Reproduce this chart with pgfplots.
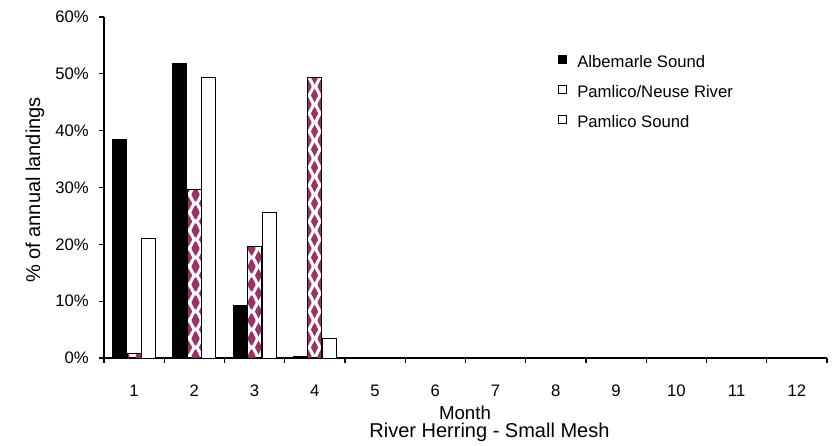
\documentclass[border=0pt]{standalone}
\usepackage{fontspec}
\setmainfont{Liberation Sans}
\usepackage{pgfplots}
\pgfplotsset{compat=1.18}
\usetikzlibrary{patterns}
\definecolor{rhpurple}{RGB}{153,51,102}
\newcommand{\dia}[2]{\pgfpathmoveto{\pgfpoint{#1}{#2-5.5pt}}\pgfpathlineto{\pgfpoint{#1+2.9pt}{#2}}\pgfpathlineto{\pgfpoint{#1}{#2+5.5pt}}\pgfpathlineto{\pgfpoint{#1-2.9pt}{#2}}\pgfpathclose}
\pgfdeclarepatternformonly{rhdiamonds}{\pgfpointorigin}{\pgfpoint{10.5pt}{13.5pt}}{\pgfpoint{10.5pt}{13.5pt}}{%
  \dia{5.25pt}{6.75pt}\dia{0pt}{0pt}\dia{10.5pt}{0pt}\dia{0pt}{13.5pt}\dia{10.5pt}{13.5pt}%
  \pgfusepath{fill}}
\begin{document}
\begin{tikzpicture}
\begin{axis}[
  at={(0,0)}, anchor=south west,
  scale only axis,
  width=542.25pt, height=255.75pt,
  xmin=0.5, xmax=12.5, ymin=0, ymax=60,
  axis x line=bottom, axis y line=left,
  axis line style={-, line width=0.9pt},
  ybar, bar width=10.5pt,
  xtick={1,...,12},
  minor xtick={0.5,1.5,...,12.5},
  major x tick style={draw=none},
  minor x tick style={line width=0.9pt, black},
  minor tick length=3.75pt,
  ytick={0,10,...,60},
  major y tick style={line width=0.9pt, black},
  major tick length=3.75pt,
  tick align=outside,
  /pgf/number format/assume math mode=true,
  yticklabel={\pgfmathprintnumber{\tick}\%},
  ticklabel style={font=\fontsize{12.5}{15}\selectfont},
  xticklabel style={anchor=base, yshift=-24.75pt},
  yticklabel style={anchor=east, inner sep=0pt, xshift=-7.5pt},
  legend cell align=left,
  legend style={draw=none, fill=none, at={(axis description cs:0.628,0.8886)}, anchor=north west,
    inner sep=0pt, row sep=10.5pt, column sep=7.5pt,
    font=\fontsize{12.5}{15}\selectfont,
    nodes={inner sep=0pt, text height=9pt, text depth=3pt}},
  legend image code/.code={\draw[#1, line width=0.75pt] (0pt,-0.5pt) rectangle (6pt,5.5pt);},
]
\addplot[draw=black, line width=0.75pt, fill=black, bar shift=-10.875pt] coordinates {(1,38.5) (2,51.85) (3,9.2) (4,0.3)};
\addlegendimage{draw=black, fill=white}
\addplot[draw=black, line width=0.75pt, pattern=rhdiamonds, pattern color=rhpurple, bar shift=0pt, forget plot] coordinates {(1,0.75) (2,29.7) (3,19.6) (4,49.4)};
\addplot[draw=black, line width=0.75pt, fill=white, bar shift=10.875pt] coordinates {(1,21.0) (2,49.4) (3,25.6) (4,3.4)};
\legend{Albemarle Sound, Pamlico/Neuse River, Pamlico Sound}
\end{axis}
\node[rotate=90, font=\fontsize{15}{18}\selectfont] at (-51.75pt,126pt) {\% of annual landings};
\node[anchor=base, inner sep=0pt, font=\fontsize{14}{17}\selectfont] at (270.75pt,-45.75pt) {Month};
\node[anchor=base, inner sep=0pt, font=\fontsize{15}{18}\selectfont] at (289.1pt,-59.5pt) {River Herring - Small Mesh};
\pgfresetboundingbox
\useasboundingbox (-78pt,-66pt) rectangle (548.25pt,268.5pt);
\end{tikzpicture}
\end{document}
